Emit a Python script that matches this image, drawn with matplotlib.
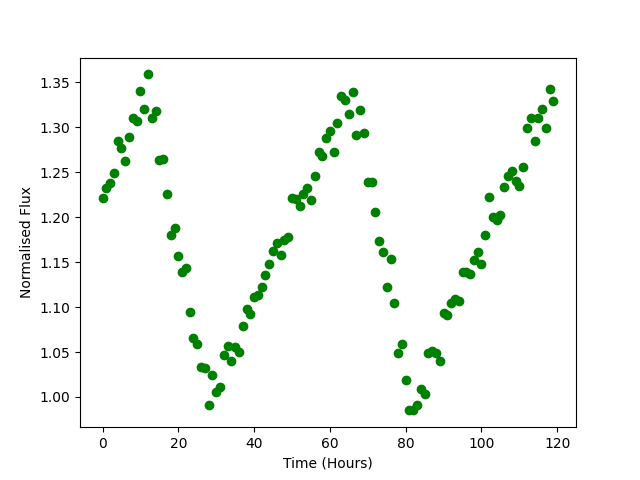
import matplotlib
matplotlib.use("Agg")
import matplotlib.pyplot as plt
import numpy as np

hours = np.arange(120)
flux = [1.221, 1.232, 1.238, 1.249, 1.285, 1.277, 1.263, 1.289, 1.310, 1.307,
        1.341, 1.320, 1.359, 1.310, 1.318, 1.264, 1.265, 1.226, 1.180, 1.188,
        1.157, 1.139, 1.144, 1.095, 1.066, 1.059, 1.033, 1.032, 0.991, 1.024,
        1.006, 1.011, 1.047, 1.057, 1.040, 1.056, 1.050, 1.079, 1.098, 1.092,
        1.111, 1.113, 1.122, 1.136, 1.148, 1.162, 1.171, 1.158, 1.175, 1.178,
        1.221, 1.220, 1.212, 1.226, 1.232, 1.219, 1.246, 1.273, 1.268, 1.288,
        1.296, 1.273, 1.305, 1.335, 1.331, 1.315, 1.339, 1.292, 1.319, 1.294,
        1.239, 1.239, 1.206, 1.174, 1.161, 1.122, 1.153, 1.105, 1.049, 1.059,
        1.019, 0.985, 0.985, 0.991, 1.009, 1.003, 1.049, 1.051, 1.049, 1.040,
        1.093, 1.091, 1.105, 1.109, 1.107, 1.139, 1.139, 1.137, 1.152, 1.161,
        1.148, 1.180, 1.222, 1.200, 1.197, 1.203, 1.234, 1.246, 1.251, 1.240,
        1.235, 1.256, 1.299, 1.311, 1.285, 1.310, 1.321, 1.299, 1.343, 1.329]

fig, ax = plt.subplots(figsize=(6.4, 4.8), dpi=100)
ax.plot(hours, flux, 'go')
ax.set_xlabel("Time (Hours)")
ax.set_ylabel("Normalised Flux")

plt.savefig("out.png")
